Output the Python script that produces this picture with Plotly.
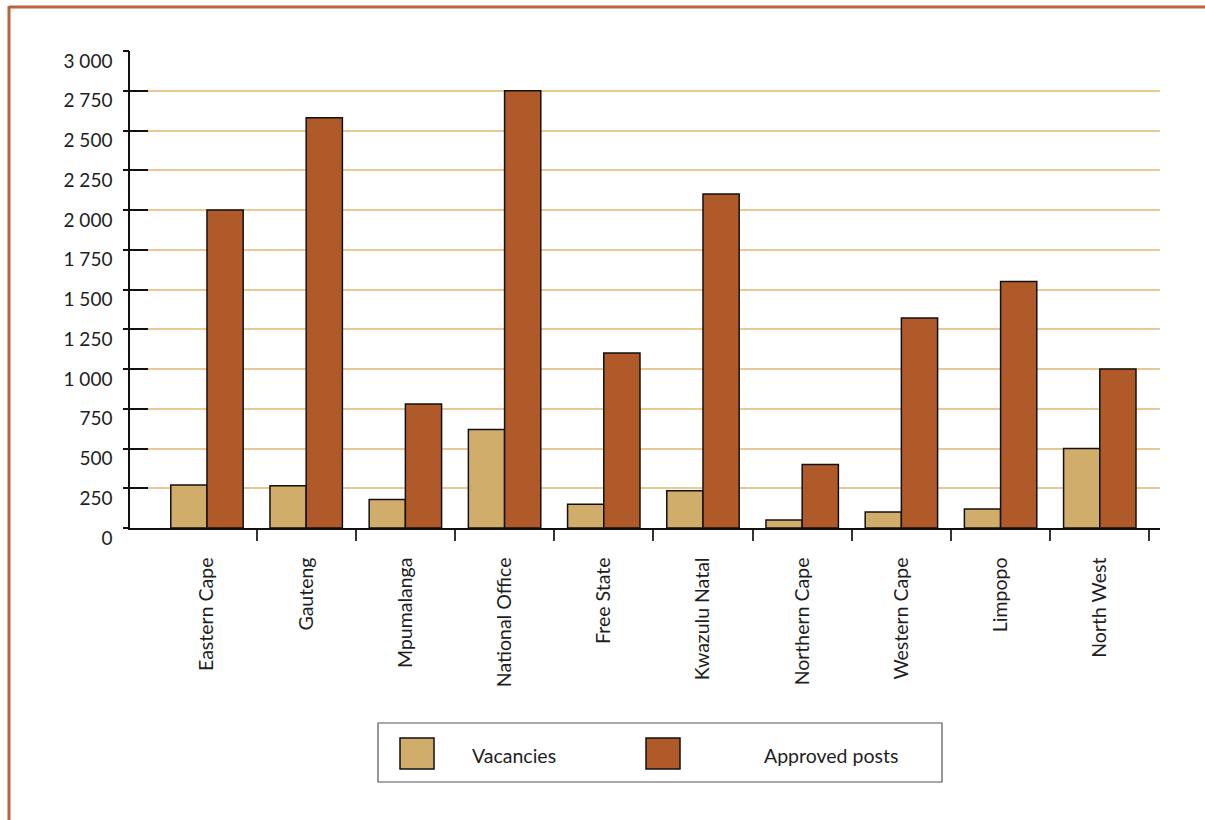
import plotly.graph_objects as go

# Posts per office
categories = ["Eastern Cape", "Gauteng", "Mpumalanga", "National Office", "Free State",
              "Kwazulu Natal", "Northern Cape", "Western Cape", "Limpopo", "North West"]
vacancies = [270, 265, 180, 620, 150, 235, 50, 100, 120, 500]
approved_posts = [2000, 2580, 780, 2750, 1100, 2100, 400, 1320, 1550, 1000]

series_names = ["Vacancies", "Approved posts"]
series_colors = ["#D1AD6C", "#B05A2A"]

y_tick_vals = [0, 250, 500, 750, 1000, 1250, 1500, 1750, 2000, 2250, 2500, 2750, 3000]
y_tick_text = ["0", "250", "500", "750", "1 000", "1 250", "1 500", "1 750",
               "2 000", "2 250", "2 500", "2 750", "3 000"]

W, H = 1205, 820
ML, MR, MT, MB = 130, 45, 51, 292
FONT = "Lato"
FRAME = "#B8653B"
TEXT = "#1E1E1E"

positions = list(range(len(categories)))
boundaries = [p + 0.5 for p in positions]


def px_x(px):
    return (px - ML) / (W - ML - MR)


def px_y(py):
    return (H - MB - py) / (H - MT - MB)


fig = go.Figure()
for name, vals, color in zip(series_names, [vacancies, approved_posts], series_colors):
    fig.add_trace(go.Bar(
        x=positions, y=vals, name=name,
        marker=dict(color=color, line=dict(color="#111111", width=1.5)),
        showlegend=False,
    ))

# helper trace so the secondary y axis (outer tick stubs) is rendered
fig.add_trace(go.Scatter(x=[0], y=[0], yaxis="y2", mode="none",
                         showlegend=False, hoverinfo="skip"))

shapes = [
    # page frame: top and left rules
    dict(type="line", xref="paper", yref="paper", x0=px_x(9), x1=px_x(W + 5),
         y0=px_y(7), y1=px_y(7), line=dict(color=FRAME, width=3)),
    dict(type="line", xref="paper", yref="paper", x0=px_x(9), x1=px_x(9),
         y0=px_y(6), y1=px_y(H + 5), line=dict(color=FRAME, width=3)),
    # legend box
    dict(type="rect", xref="paper", yref="paper", x0=px_x(378), x1=px_x(942),
         y0=px_y(723), y1=px_y(782), line=dict(color="#555555", width=1.2),
         fillcolor="white"),
]
annotations = []
legend_x = [(400, 470), (646, 762)]
for (sx, tx), name, color in zip(legend_x, series_names, series_colors):
    shapes.append(dict(type="rect", xref="paper", yref="paper",
                       x0=px_x(sx), x1=px_x(sx + 34), y0=px_y(738), y1=px_y(769),
                       line=dict(color="#111111", width=1.5), fillcolor=color))
    annotations.append(dict(xref="paper", yref="paper", x=px_x(tx), y=px_y(755),
                            text=name, showarrow=False, xanchor="left", yanchor="middle",
                            font=dict(family=FONT, size=19.5, color=TEXT)))

fig.update_layout(
    width=W, height=H,
    margin=dict(l=ML, r=MR, t=MT, b=MB, pad=0),
    paper_bgcolor="white", plot_bgcolor="white",
    barmode="group", bargap=0.27, bargroupgap=0,
    font=dict(family=FONT, size=19, color=TEXT),
    shapes=shapes, annotations=annotations,
    xaxis=dict(
        range=[-0.776, 9.607], tickmode="array", tickvals=positions, ticktext=categories,
        tickangle=-90, ticks="", showgrid=False, zeroline=False,
        showline=True, linecolor="#111111", linewidth=1.5,
        ticklabelstandoff=20, tickfont=dict(family=FONT, size=19.5, color=TEXT),
        minor=dict(tickmode="array", tickvals=boundaries, ticks="outside",
                   ticklen=11, tickwidth=1.5, tickcolor="#333333", showgrid=False),
    ),
    yaxis=dict(
        range=[0, 3000], tickmode="array", tickvals=y_tick_vals, ticktext=y_tick_text,
        ticks="inside", ticklen=18, tickwidth=1.5, tickcolor="#111111",
        showline=True, linecolor="#111111", linewidth=1.5,
        showgrid=True, gridcolor="#E8C994", gridwidth=1.5, zeroline=False,
        ticklabelstandoff=12, ticklabelshift=10,
        tickfont=dict(family=FONT, size=19, color=TEXT),
    ),
    yaxis2=dict(
        overlaying="y", side="left", range=[0, 3000], tickmode="array",
        tickvals=y_tick_vals, ticks="outside", ticklen=6, tickwidth=1.5,
        tickcolor="#111111", showticklabels=False, showgrid=False,
        zeroline=False, showline=False,
    ),
)

fig.write_html("out.html")
